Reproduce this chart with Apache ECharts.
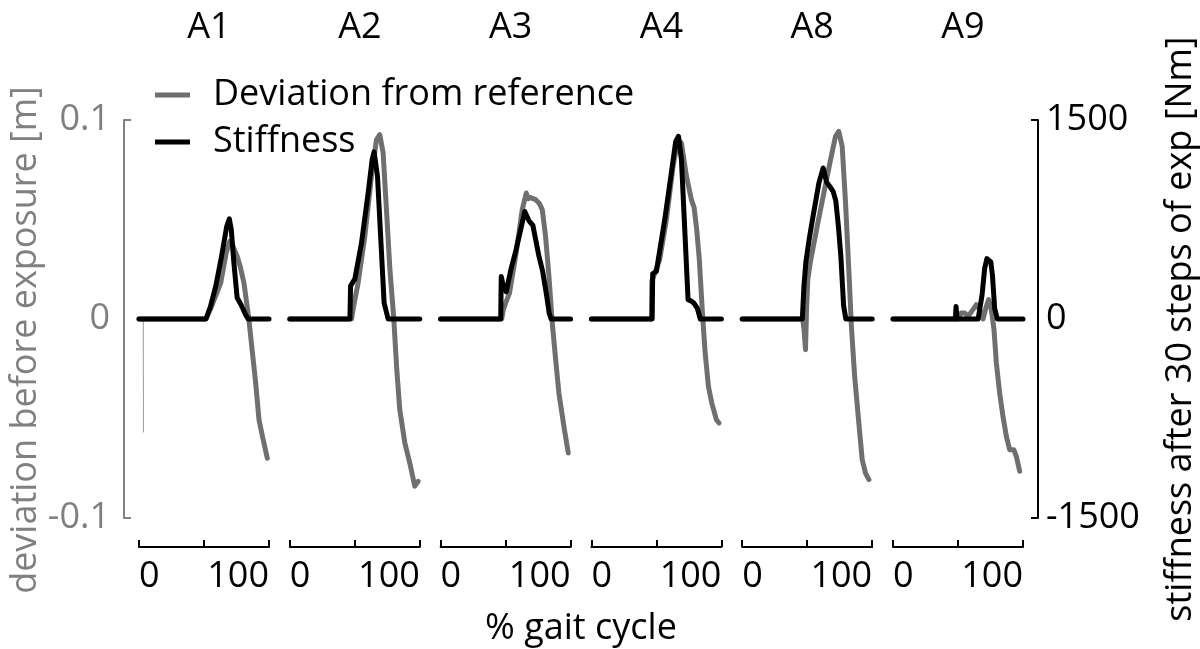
<!DOCTYPE html>
<html><head><meta charset="utf-8">
<script src="https://cdn.jsdelivr.net/npm/echarts@6/dist/echarts.min.js"></script>
<style>html,body{margin:0;padding:0;background:#fff}#c{width:1200px;height:649px}</style>
</head><body><div id="c"></div>
<script>
// ---- data ----
const panels = ['A1', 'A2', 'A3', 'A4', 'A8', 'A9'];

// deviation from reference [m] vs % gait cycle
const devA1 = [[0,0],[103,0],[110,0.005],[125.6,0.018],[134,0.033],[139.5,0.039],[144,0.037],[151,0.0315],[156,0.026],[161.5,0.018],[169,0],[174,-0.0154],[179.5,-0.032],[184.6,-0.0506],[190,-0.059],[197.4,-0.070]];
const devA1start = [[6.6,0],[6.8,-0.057]];
const devA2 = [[0,0],[95,0],[97.4,0.005],[105,0.018],[115.4,0.0415],[125.6,0.0717],[133.3,0.090],[138.5,0.0926],[143.6,0.0834],[148.7,0.055],[154,0.025],[160,0],[164.5,-0.025],[169.2,-0.0456],[177,-0.0623],[184.6,-0.0724],[192.3,-0.084],[197.4,-0.0816]];
const devA3 = [[0,0],[94,0],[96,0.004],[100,0.008],[106,0.013],[115.4,0.0315],[125.6,0.055],[131.8,0.0633],[135,0.0605],[138.5,0.061],[146.2,0.06],[152,0.058],[156.4,0.055],[161.5,0.0415],[166.7,0.0214],[171.8,-0.002],[177,-0.0204],[182,-0.0372],[189.7,-0.054],[196.4,-0.0673]];
const devA4 = [[0,0],[92.5,0],[93,0.019],[95,0.02],[105,0.0298],[115.4,0.05],[125.6,0.0767],[133.3,0.090],[138.5,0.0884],[146.2,0.0717],[153.8,0.06],[158,0.056],[162,0.045],[166,0.03],[171,0.002],[175,-0.017],[180,-0.0338],[185,-0.042],[192.3,-0.0506],[196.4,-0.0523]];
const devA8 = [[0,0],[93,0],[95,-0.005],[97.4,-0.0154],[99,0.005],[101,0.02],[105,0.029],[115.4,0.0466],[125.6,0.0633],[135.9,0.08],[143.6,0.0918],[148.5,0.0943],[153.8,0.0868],[159,0.0583],[164,0.0248],[168,-0.0037],[173,-0.0288],[179,-0.0506],[184.6,-0.0707],[189.7,-0.0774],[194.9,-0.0807]];
const devA9 = [[0,0],[100,0],[105,0.003],[110.3,0.003],[115.4,0.0013],[123,0.0047],[128.2,0.0072],[133.3,0.0047],[138.5,0],[143.6,0.0064],[147.2,0.0097],[151.3,0.0047],[155.4,-0.0054],[159,-0.022],[164,-0.037],[169.2,-0.049],[174.4,-0.059],[179.5,-0.0657],[186,-0.0657],[189.7,-0.069],[194.9,-0.0765]];

// stiffness after 30 steps of exposure [Nm] vs % gait cycle
const stfA1 = [[0,0],[103,0],[110,95],[118,246],[127,472],[135,699],[139,755],[142,673],[146,422],[151,160],[157,108],[164,33],[168,0],[200,0]];
const stfA2 = [[0,0],[92.5,0],[93.5,250],[100,300],[110.3,573],[120.5,950],[126.7,1201],[129.7,1260],[134.9,1076],[140,600],[145.1,121],[151.3,0],[200,0]];
const stfA3 = [[0,0],[92.5,0],[93.3,320],[96,260],[101,206],[108,370],[116,520],[123,670],[129.5,810],[136,740],[142,705],[151,480],[157,360],[163,180],[167,45],[170,0],[200,0]];
const stfA4 = [[0,0],[93.5,0],[94.3,340],[100,360],[112.8,749],[123,1101],[129.7,1339],[134,1377],[138.5,1201],[143,740],[148.7,146],[153.4,135],[158,118],[163,80],[167.5,0],[200,0]];
const stfA8 = [[0,0],[92.5,0],[95,250],[98,430],[103,600],[108,746],[118,1025],[124.6,1138],[130,1030],[135,997],[140,960],[144,890],[148,700],[151.8,470],[156,100],[159.5,0],[200,0]];
const stfA9 = [[0,0],[96,0],[97,95],[98.5,0],[131,0],[137,180],[141,380],[144.5,455],[147.5,470],[150.5,430],[153,330],[156.4,80],[160.5,0],[200,0]];

const devSeries = [devA1, devA2, devA3, devA4, devA8, devA9];
const stfSeries = [stfA1, stfA2, stfA3, stfA4, stfA8, stfA9];

const xTickValues = [0, 100, 200];
const xTickLabels = ['0', '', '100'];
const devTickValues = [-0.1, 0, 0.1];
const devTickLabels = ['-0.1', '0', '0.1'];
const stfTickValues = [-1500, 0, 1500];
const stfTickLabels = ['-1500', '0', '1500'];

// ---- style / layout ----
const FONT = '"Open Sans", "Noto Sans", sans-serif';
const FS = 36;
const GRAY = '#6f6f6f';
const AXGRAY = '#808080';
const LW = 5;
const GL = 139, STEP = 150.8, GW = 130, GT = 120, GH = 398;

const grids = panels.map((p, i) => ({ left: GL + i * STEP, top: GT, width: GW, height: GH }));

const xAxes = panels.map((p, i) => ({
  gridIndex: i, type: 'value', min: 0, max: 200, interval: 100, offset: 29,
  axisLine: { show: true, onZero: false, lineStyle: { color: '#000', width: 2 } },
  axisTick: { show: true, inside: true, length: 7, lineStyle: { color: '#000', width: 2 } },
  splitLine: { show: false },
  axisLabel: {
    show: true, margin: 12, color: '#000', fontSize: FS, fontFamily: FONT,
    showMinLabel: true, showMaxLabel: true,
    alignMinLabel: 'left', alignMaxLabel: 'right',
    formatter: v => { const k = xTickValues.indexOf(v); return k >= 0 ? xTickLabels[k] : ''; }
  }
}));

const yAxes = [];
panels.forEach((p, i) => {
  yAxes.push({
    gridIndex: i, type: 'value', min: -0.1, max: 0.1, interval: 0.1, position: 'left',
    show: i === 0, offset: 15,
    name: i === 0 ? 'deviation before exposure [m]' : '',
    nameLocation: 'middle', nameRotate: 90, nameGap: 80,
    nameTextStyle: { color: AXGRAY, fontSize: FS, fontFamily: FONT, padding: [0, 42, 0, 0] },
    axisLine: { show: true, onZero: false, lineStyle: { color: AXGRAY, width: 2 } },
    axisTick: { show: true, inside: true, length: 7, customValues: [-0.1, 0.1], lineStyle: { color: AXGRAY, width: 2 } },
    splitLine: { show: false },
    axisLabel: {
      margin: 14, color: AXGRAY, fontSize: FS, fontFamily: FONT,
      formatter: v => { const k = devTickValues.findIndex(t => Math.abs(t - v) < 1e-9); return k >= 0 ? devTickLabels[k] : ''; }
    }
  });
  yAxes.push({
    gridIndex: i, type: 'value', min: -1500, max: 1500, interval: 1500, position: 'right',
    show: i === panels.length - 1, offset: 15,
    name: i === panels.length - 1 ? 'stiffness after 30 steps of exp [Nm]' : '',
    nameLocation: 'middle', nameRotate: 90, nameGap: 125,
    nameTextStyle: { color: '#000', fontSize: FS, fontFamily: FONT, padding: [0, 20, 0, 0] },
    axisLine: { show: true, onZero: false, lineStyle: { color: '#000', width: 2 } },
    axisTick: { show: true, inside: true, length: 7, customValues: [-1500, 1500], lineStyle: { color: '#000', width: 2 } },
    splitLine: { show: false },
    axisLabel: {
      margin: 8, color: '#000', fontSize: FS, fontFamily: FONT,
      formatter: v => { const k = stfTickValues.indexOf(v); return k >= 0 ? stfTickLabels[k] : ''; }
    }
  });
});

const series = [];
panels.forEach((p, i) => {
  series.push({
    name: 'Deviation from reference', type: 'line', xAxisIndex: i, yAxisIndex: 2 * i,
    data: devSeries[i], showSymbol: false, symbol: 'none', z: 2,
    lineStyle: { color: GRAY, width: LW, cap: 'round', join: 'round' }, itemStyle: { color: GRAY }
  });
  series.push({
    name: 'Stiffness', type: 'line', xAxisIndex: i, yAxisIndex: 2 * i + 1,
    data: stfSeries[i], showSymbol: false, symbol: 'none', z: 3,
    lineStyle: { color: '#000', width: LW, cap: 'round', join: 'round' }, itemStyle: { color: '#000' }
  });
});
series.push({
  name: 'A1 start transient', type: 'line', xAxisIndex: 0, yAxisIndex: 0,
  data: devA1start, showSymbol: false, symbol: 'none', z: 1,
  lineStyle: { color: '#9a9a9a', width: 1 }
});

const option = {
  animation: false,
  backgroundColor: '#fff',
  title: panels.map((p, i) => ({
    text: p, left: GL + i * STEP + GW / 2, top: 5, textAlign: 'center',
    textStyle: { fontSize: FS, fontWeight: 'normal', fontFamily: FONT, color: '#000' }
  })),
  legend: {
    data: ['Deviation from reference', 'Stiffness'],
    orient: 'vertical', left: 150, top: 70, icon: 'rect', itemWidth: 35, itemHeight: 5, itemGap: 7,
    textStyle: { fontSize: FS, fontFamily: FONT, color: '#000', lineHeight: 40, padding: [0, 0, 0, 18] },
    selectedMode: false
  },
  grid: grids,
  xAxis: xAxes,
  yAxis: yAxes,
  series: series,
  graphic: [{
    type: 'text', x: GL + (5 * STEP + GW) / 2, y: 629,
    style: { text: '% gait cycle', fontSize: FS, fontFamily: FONT, fill: '#000', align: 'center', verticalAlign: 'middle' }
  }]
};

const chart = echarts.init(document.getElementById('c'), null, { renderer: 'canvas' });
chart.setOption(option);
</script>
</body></html>
